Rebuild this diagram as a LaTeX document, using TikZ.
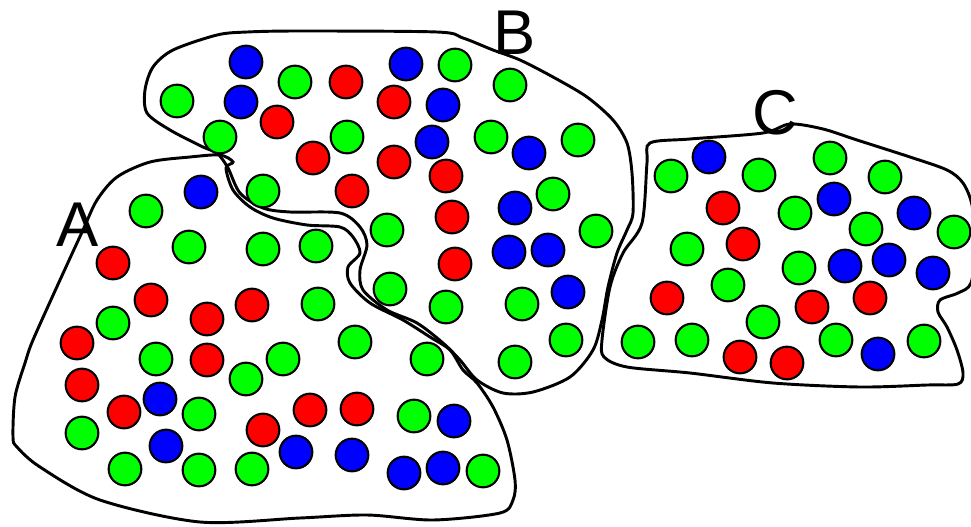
\documentclass[tikz,border=0pt]{standalone}
\usepackage{fontspec}
\setmainfont{Liberation Sans}
\definecolor{dotgreen}{RGB}{0,255,0}
\definecolor{dotred}{RGB}{255,0,0}
\definecolor{dotblue}{RGB}{0,0,255}

\begin{document}
\begin{tikzpicture}[x=0.03cm, y=-0.03cm, line width=2.5pt,
    dot/.style={circle, draw, line width=1.8pt, minimum size=0.98cm, inner sep=0pt},
    gdot/.style={dot, fill=dotgreen},
    rdot/.style={dot, fill=dotred},
    bdot/.style={dot, fill=dotblue},
    setlabel/.style={font=\fontsize{54}{60}\selectfont, inner sep=0pt}]
    \useasboundingbox (0,0) rectangle (971,526);
    \clip (0,0) rectangle (971,526);

    % set outlines
    \draw plot[smooth cycle, tension=0.5] coordinates {
        (220,155) (190,157) (150,162) (117,177) (97,200) (83,230) (60,280) (33,340)
        (25,363) (15,397) (13,437) (17,447) (40,467) (100,500) (200,522) (300,518)
        (367,515) (433,520) (500,513) (513,500) (515,480) (507,440) (493,407) (477,383)
        (463,370) (450,350) (430,337) (403,320) (370,303) (350,283) (348,267) (360,253)
        (353,237) (340,227) (307,225) (273,218) (250,207) (233,190) (226,168) (233,162)};
    \draw plot[smooth cycle, tension=0.5] coordinates {
        (217,153) (203,147) (170,130) (147,113) (145,90) (153,67) (173,50) (217,35)
        (247,32) (300,31) (437,32) (463,38) (493,50) (520,60) (553,77) (587,97)
        (613,120) (627,143) (632,173) (633,213) (627,230) (617,253) (608,287) (602,320)
        (593,350) (570,377) (533,392) (503,393) (477,380) (460,360) (443,343) (417,323)
        (387,310) (363,290) (360,270) (367,245) (360,227) (340,213) (290,212) (263,208)
        (240,193) (228,168)};
    \draw plot[smooth cycle, tension=0.5] coordinates {
        (650,143) (690,139) (763,133) (790,124) (823,129) (857,140) (910,157) (947,170)
        (963,183) (972,205) (976,245) (971,283) (958,293) (940,300) (938,312) (947,327)
        (957,350) (963,373) (958,384) (927,385) (860,387) (773,383) (690,373) (627,367)
        (604,357) (602,340) (610,287) (623,253) (642,223) (647,163)};

    % set A
    \foreach \px/\py [count=\i] in {146/211, 263/191, 189/247, 263/249, 316/246,
        318/304, 113/323, 355/342, 427/359, 156/359, 283/359, 246/379, 199/414,
        82/433, 414/416, 125/469, 199/470, 252/469, 483/471}
        \node[gdot] (ga\i) at (\px,\py) {};
    \foreach \px/\py [count=\i] in {113/263, 151/300, 207/319, 252/305, 77/343,
        207/360, 82/385, 124/412, 310/410, 357/409, 263/430}
        \node[rdot] (ra\i) at (\px,\py) {};
    \foreach \px/\py [count=\i] in {201/192, 160/399, 166/446, 296/452, 352/455,
        454/421, 404/473, 443/468}
        \node[bdot] (ba\i) at (\px,\py) {};

    % set B
    \foreach \px/\py [count=\i] in {177/101, 295/82, 455/65, 510/85, 220/137,
        347/137, 491/137, 578/140, 553/194, 387/230, 596/231, 390/289, 446/307,
        522/304, 566/340, 515/362}
        \node[gdot] (gb\i) at (\px,\py) {};
    \foreach \px/\py [count=\i] in {346/82, 394/102, 277/122, 313/158, 394/162,
        446/176, 352/191, 452/217, 455/264}
        \node[rdot] (rb\i) at (\px,\py) {};
    \foreach \px/\py [count=\i] in {246/62, 406/64, 241/102, 443/105, 432/142,
        529/153, 515/208, 509/252, 548/250, 568/292}
        \node[bdot] (bb\i) at (\px,\py) {};

    % set C
    \foreach \px/\py [count=\i] in {671/176, 759/175, 830/158, 885/177, 795/213,
        866/229, 954/232, 687/249, 799/268, 728/285, 763/322, 638/342, 692/340,
        836/340, 924/341}
        \node[gdot] (gc\i) at (\px,\py) {};
    \foreach \px/\py [count=\i] in {723/208, 743/244, 667/298, 812/307, 870/298,
        740/357, 787/363}
        \node[rdot] (rc\i) at (\px,\py) {};
    \foreach \px/\py [count=\i] in {709/157, 834/199, 914/213, 845/266, 889/260,
        933/273, 878/354}
        \node[bdot] (bc\i) at (\px,\py) {};

    % labels
    \node[setlabel] (labA) at (78,225) {A};
    \node[setlabel] (labB) at (515,33) {B};
    \node[setlabel] (labC) at (775,113) {C};
\end{tikzpicture}
\end{document}
